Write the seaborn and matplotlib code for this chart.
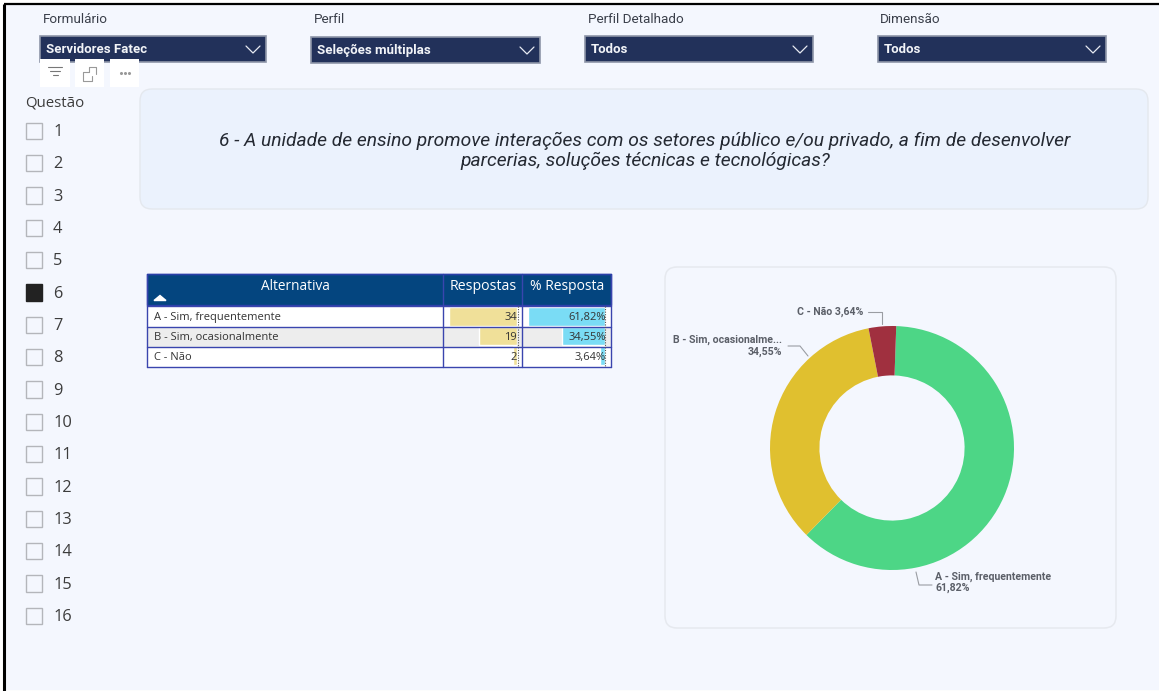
import matplotlib
matplotlib.use("Agg")
import matplotlib.pyplot as plt
from matplotlib.patches import FancyBboxPatch, Rectangle
import pandas as pd
import seaborn as sns

# ---- data ----
alternativas = ["A - Sim, frequentemente", "B - Sim, ocasionalmente", "C - Não"]
respostas = [34, 19, 2]
percentuais = [61.82, 34.55, 3.64]
pct_labels = ["61,82%", "34,55%", "3,64%"]
questoes = list(range(1, 17))
questao_sel = 6
filtros = ["Formulário", "Perfil", "Perfil Detalhado", "Dimensão"]
filtro_vals = ["Servidores Fatec", "Seleções múltiplas", "Todos", "Todos"]
titulo = ("6 - A unidade de ensino promove interações com os setores público e/ou privado, a fim de desenvolver\n"
          "parcerias, soluções técnicas e tecnológicas?")
cores_pie = ["#4DD686", "#E0C02F", "#A0303F"]

sns.set_theme(style="white")
W, H = 1159, 691
BG = "#F4F7FE"
DIN = "Roboto"
SEGOE = "Open Sans"
fig = plt.figure(figsize=(W / 100, H / 100), dpi=100, facecolor="white")


def px_axes(z):
    a = fig.add_axes([0, 0, 1, 1], zorder=z)
    a.set_xlim(0, W)
    a.set_ylim(H, 0)
    a.axis("off")
    a.patch.set_alpha(0)
    return a


def box_axes(x0, y0, x1, y1, z=1):
    return fig.add_axes([x0 / W, (H - y1) / H, (x1 - x0) / W, (y1 - y0) / H], zorder=z)


bg = px_axes(0)
top = px_axes(5)

# page background and frame
bg.add_patch(Rectangle((4, 4), W - 4, H - 5, fc=BG, ec="none"))
bg.plot([4, 4], [4, H], color="black", lw=2.2, solid_capstyle="butt")
bg.plot([4, W], [4, 4], color="black", lw=1.6, solid_capstyle="butt")
bg.plot([4, W], [690.5, 690.5], color="#D8DBE2", lw=0.8)

# filters
drop_x = [(40, 266, 36, 62), (311, 540, 37, 63), (585, 813, 36, 62), (878, 1106, 36, 62)]
lab_x = [43, 314, 588, 880]
for (x0, x1, y0, y1), lx, f, v in zip(drop_x, lab_x, filtros, filtro_vals):
    bg.text(lx, 19.5, f, family=DIN, fontsize=9.7, color="#3A3F4A", va="center")
    bg.add_patch(Rectangle((x0, y0), x1 - x0, y1 - y0, fc="#22315A", ec="#8D95A8", lw=1.2))
    bg.text(x0 + 6, (y0 + y1) / 2 + 0.5, v, family=DIN, fontsize=9.5, weight="bold", color="#F2F4F8", va="center")
    cx = x1 - 13
    cy = (y0 + y1) / 2
    bg.plot([cx - 7, cx, cx + 7], [cy - 3, cy + 4, cy - 3], color="#E8EBF2", lw=0.9)

# hover icons
for x0, x1 in [(40, 70), (75, 104), (110, 139)]:
    bg.add_patch(Rectangle((x0, 59), x1 - x0, 28, fc="white", ec="none"))
for w, y in [(7, 67), (5, 71), (2.5, 75)]:
    bg.plot([55 - w, 55 + w], [y, y], color="#777", lw=0.8)
bg.plot([89, 83, 83, 92, 92], [72, 72, 81, 81, 76], color="#999", lw=0.8)
bg.plot([89, 89, 96, 96], [72, 67, 67, 74], color="#999", lw=0.8)
bg.plot([120.5, 124.5, 128.5], [72.5, 72.5, 72.5], ls="none", marker="o", ms=1.2, color="#999")

# question slicer
bg.text(25, 103, "Questão", family=SEGOE, fontsize=10.8, color="#3C3C3C", va="center")
for i, q in enumerate(questoes):
    y = 131 + i * (616 - 131) / 15
    sel = q == questao_sel
    bg.add_patch(Rectangle((25.5, y - 8.5), 16.5, 16.5, fc="#222222" if sel else "none",
                           ec="#222222" if sel else "#B4B6BB", lw=1.0))
    bg.text(53, y + 1, str(q), family=SEGOE, fontsize=11.8, color="#3C3C3C", va="center")

# title card
bg.add_patch(FancyBboxPatch((140, 89), 1008, 120, boxstyle="round,pad=0,rounding_size=12",
                            fc="#EBF2FD", ec="#E4E8EE", lw=1))
bg.text(645, 151, titulo, family=DIN, style="italic", fontsize=13.9, color="#252A33",
        ha="center", va="center", linespacing=1.1)

# table
col_x = [147, 443, 522, 611]
rows_y = [305.5, 326.5, 346.5, 366.5]
bg.add_patch(Rectangle((147, 274), 464, 31, fc="#04457F", ec="#2A3FA8", lw=1))
for i in range(3):
    bg.add_patch(Rectangle((147, rows_y[i]), 464, rows_y[i + 1] - rows_y[i],
                           fc="#EDEDED" if i == 1 else "white", ec="none"))

frame = pd.DataFrame({"alt": alternativas, "resp": respostas, "pct": percentuais})
ax_r = box_axes(449, rows_y[0] + 1, 517, rows_y[3] - 1)
sns.barplot(data=frame, x="resp", y="alt", orient="h", color="#F0E099", saturation=1, width=0.94, ax=ax_r)
ax_r.set_xlim(34, 0)
ax_p = box_axes(528, rows_y[0] + 1, 605, rows_y[3] - 1)
sns.barplot(data=frame, x="pct", y="alt", orient="h", color="#7ADCF5", saturation=1, width=0.94, ax=ax_p)
ax_p.set_xlim(61.82, 0)
for a in (ax_r, ax_p):
    a.axis("off")
    a.patch.set_alpha(0)

for x in col_x:
    top.plot([x, x], [274, 366.5], color="#3A45AE", lw=1.0)
for y in rows_y:
    top.plot([147, 611], [y, y], color="#3A45AE", lw=1.0)
top.plot([147, 611], [274, 274], color="#2A3FA8", lw=1)
for x in (517.5, 604.5):
    top.plot([x, x], [306, 367], color="#555", lw=0.8, ls=(0, (1, 1.3)))
top.text(295.5, 286, "Alternativa", family=SEGOE, fontsize=9.8, color="white", ha="center", va="center")
top.text(483, 286, "Respostas", family=SEGOE, fontsize=10.2, color="white", ha="center", va="center")
top.text(567, 286, "% Resposta", family=SEGOE, fontsize=10.0, color="white", ha="center", va="center")
top.fill([154, 160, 166], [300.5, 295.5, 300.5], color="white")
for i in range(3):
    yc = (rows_y[i] + rows_y[i + 1]) / 2 + 1.2
    top.text(154, yc, alternativas[i], family=SEGOE, fontsize=8.0, color="#333333", va="center")
    top.text(517, yc, str(respostas[i]), family=SEGOE, fontsize=8.0, color="#333333", va="center", ha="right")
    top.text(606, yc, pct_labels[i], family=SEGOE, fontsize=8.0, color="#333333", va="center", ha="right")

# donut card
bg.add_patch(FancyBboxPatch((665, 267), 451, 361, boxstyle="round,pad=0,rounding_size=12",
                            fc=BG, ec="#E6E9EF", lw=1.1))
ax_d = box_axes(892 - 122, 448 - 122, 892 + 122, 448 + 122, z=2)
ax_d.pie(percentuais, colors=cores_pie, startangle=88, counterclock=False, radius=1,
         wedgeprops=dict(width=0.405, edgecolor="none"))
ax_d.set_xlim(-1, 1)
ax_d.set_ylim(-1, 1)
ax_d.patch.set_alpha(0)

lead = "#9A9DA3"
lbl = dict(family=DIN, fontsize=7.6, weight="bold", color="#5B5F68", va="center")
top.text(863, 311.5, "C - Não 3,64%", ha="right", **lbl)
top.plot([868, 882, 882], [311.5, 311.5, 324], color=lead, lw=0.8)
top.text(782, 340, "B - Sim, ocasionalme...", ha="right", **lbl)
top.text(782, 352, "34,55%", ha="right", **lbl)
top.plot([788, 800, 808], [346, 346, 356], color=lead, lw=0.8)
top.text(935, 577, "A - Sim, frequentemente", ha="left", **lbl)
top.text(935, 588, "61,82%", ha="left", **lbl)
top.plot([916, 919, 932], [572, 585, 585], color=lead, lw=0.8)

fig.savefig("out.png", dpi=100, facecolor="white")
